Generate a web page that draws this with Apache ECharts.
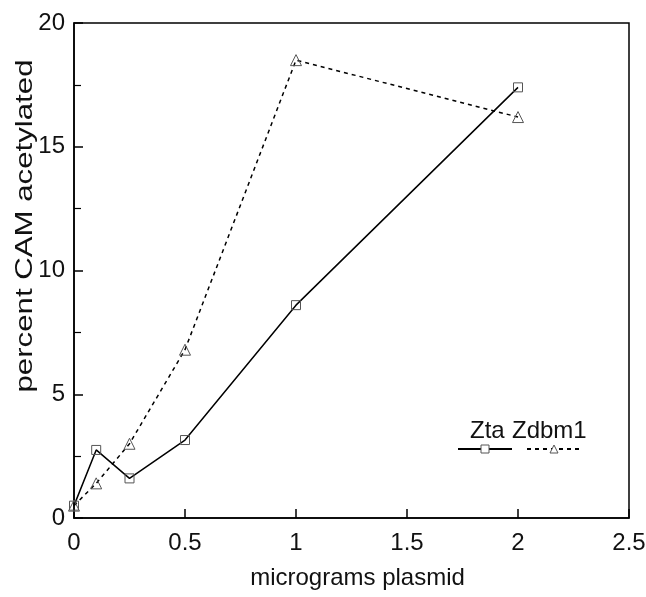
<!DOCTYPE html>
<html>
<head>
<meta charset="utf-8">
<script src="https://cdn.jsdelivr.net/npm/echarts@6/dist/echarts.min.js"></script>
<style>
  html, body { margin: 0; padding: 0; background: #fff; }
  #chart { width: 646px; height: 597px; }
</style>
</head>
<body>
<div id="chart"></div>
<script>
// data
const xPlasmid = [0, 0.1, 0.25, 0.5, 1, 2]
const ztaValues = [0.5, 2.75, 1.6, 3.15, 8.6, 17.4]
const zdbm1Values = [0.5, 1.4, 3.0, 6.8, 18.5, 16.2]
const seriesNames = ['Zta', 'Zdbm1']
const yTitle = 'percent CAM acetylated'
const xTitle = 'micrograms plasmid'

const font = 'Liberation Sans, Arial, Helvetica, sans-serif'

function pairs(xs, ys) {
  return xs.map(function (x, i) { return [x, ys[i]] })
}

const chart = echarts.init(document.getElementById('chart'))
chart.setOption({
  animation: false,
  backgroundColor: '#fff',
  grid: {
    left: 74, right: 17, top: 23, bottom: 79,
    outerBoundsMode: 'none', containLabel: false,
    show: true, borderColor: '#000', borderWidth: 1.5
  },
  legend: {
    data: seriesNames,
    right: 59, top: 439,
    itemWidth: 54, itemHeight: 10, itemGap: 13,
    formatter: function () { return '' },
    textStyle: { fontSize: 1 },
    itemStyle: { color: '#fff', borderColor: '#555', borderWidth: 1 },
    selectedMode: false
  },
  graphic: [
    { type: 'text', left: 470, top: 419, style: { text: seriesNames[0], font: '24px ' + font, fill: '#111' } },
    { type: 'text', left: 512, top: 419, style: { text: seriesNames[1], font: '24px ' + font, fill: '#111' } },
    // y title is drawn stretched in the original, so it is a graphic text
    {
      type: 'text', x: 25, y: 226, rotation: Math.PI / 2, scaleX: 1.3,
      style: { text: yTitle, font: '24px ' + font, fill: '#111', align: 'center', verticalAlign: 'middle' }
    }
  ],
  xAxis: {
    type: 'value', min: 0, max: 2.5, interval: 0.5,
    name: xTitle, nameLocation: 'middle', nameGap: 48,
    nameTextStyle: { fontSize: 24, color: '#111', fontFamily: font, padding: [0, 0, 0, 12] },
    axisLine: { show: true, lineStyle: { color: '#000', width: 1.5 } },
    axisTick: { show: true, inside: true, length: 9, lineStyle: { color: '#000', width: 1.5 } },
    axisLabel: { fontSize: 24, color: '#111', fontFamily: font, margin: 13,
      formatter: function (v) { return String(v) } },
    splitLine: { show: false }
  },
  yAxis: {
    type: 'value', min: 0, max: 20, interval: 5,
    axisLine: { show: true, lineStyle: { color: '#000', width: 1.5 } },
    axisTick: { show: true, inside: true, length: 9, lineStyle: { color: '#000', width: 1.5 } },
    minorTick: { show: true, splitNumber: 2, length: 7, lineStyle: { color: '#000', width: 1.2 } },
    axisLabel: { fontSize: 24, color: '#111', fontFamily: font, margin: 9 },
    splitLine: { show: false }
  },
  series: [
    {
      name: seriesNames[0], type: 'line',
      data: pairs(xPlasmid, ztaValues),
      symbol: 'rect', symbolSize: 9,
      lineStyle: { color: '#000', width: 1.5 },
      itemStyle: { color: 'rgba(255,255,255,0)', borderColor: '#555', borderWidth: 1 }
    },
    {
      name: seriesNames[1], type: 'line',
      data: pairs(xPlasmid, zdbm1Values),
      symbol: 'triangle', symbolSize: 11,
      lineStyle: { color: '#000', width: 1.5, type: [4, 4] },
      itemStyle: { color: 'rgba(255,255,255,0)', borderColor: '#555', borderWidth: 1 }
    }
  ]
})
</script>
</body>
</html>
